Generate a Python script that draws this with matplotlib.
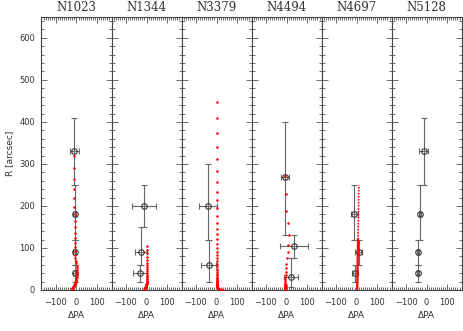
import numpy as np
import matplotlib
matplotlib.use("Agg")
import matplotlib.pyplot as plt
from matplotlib.ticker import MultipleLocator

# galaxy names, one panel each
galaxies = ["N1023", "N1344", "N3379", "N4494", "N4697", "N5128"]

# binned measurements: radius, delta PA, PA error, radial bin edges
n1023_r = [40, 90, 180, 330]
n1023_pa = [-9, -9, -9, -10]
n1023_err = [6, 6, 6, 20]
n1023_rlo = [20, 60, 120, 250]
n1023_rhi = [60, 120, 250, 410]

n1344_r = [40, 90, 200]
n1344_pa = [-32, -27, -14]
n1344_err = [35, 27, 58]
n1344_rlo = [20, 60, 150]
n1344_rhi = [60, 150, 250]

n3379_r = [60, 200]
n3379_pa = [-39, -42]
n3379_err = [36, 44]
n3379_rlo = [20, 120]
n3379_rhi = [120, 300]

n4494_r = [32, 105, 270]
n4494_pa = [20, 36, -9]
n4494_err = [34, 70, 20]
n4494_rlo = [8, 75, 130]
n4494_rhi = [75, 130, 400]

n4697_r = [40, 90, 180]
n4697_pa = [-8, 10, -11]
n4697_err = [16, 16, 16]
n4697_rlo = [20, 60, 120]
n4697_rhi = [60, 120, 250]

n5128_r = [40, 90, 180, 330]
n5128_pa = [-42, -42, -33, -15]
n5128_err = [5, 5, 5, 22]
n5128_rlo = [20, 60, 120, 250]
n5128_rhi = [60, 120, 250, 410]

# photometric profiles (red dots)
m1023_r = [1, 2, 3, 4, 5, 6, 7, 8, 9, 10, 11, 12, 13.5, 15, 16, 18, 20, 22, 24, 26,
           29, 32, 35, 39, 43, 47, 52, 57, 63, 69, 76, 84, 92, 102, 112, 123, 135,
           149, 164, 180, 198, 218, 240, 264, 290, 319]
m1023_pa = [-23, -22, -21, -20, -18, -17, -16, -15, -14, -12, -11, -10, -9, -7, -6, -5,
            -3, -2, -1, 0, 0, 1, 2, 2, 3, 3, 2, 1, -1, -4, -6, -8, -9, -9, -9, -9, -9,
            -9, -9, -9, -10, -10, -10, -10, -11, -11]

m1344_r = [1, 2, 3, 4, 5, 6, 7, 8, 9, 10, 11, 12, 14, 15, 17, 18, 20, 22, 25, 27,
           30, 33, 36, 40, 44, 49, 54, 59, 65, 72, 79, 87, 95, 105]
m1344_pa = [-13, -11, -9, -7, -6, -5, -4, -3, -3, -2, -2, -1, -1, 0, 0, 0, 0, 0, 0, 0,
            0, 1, 1, 1, 1, 1, 1, 1, 1, 1, 1, 1, 1, 1]

m3379_r = [1, 2, 3, 4, 5, 6, 7, 8, 9, 10, 11, 12, 13, 14.5, 16, 18, 20, 22, 24, 26,
           29, 32, 35, 38, 42, 47, 51, 56, 62, 68, 75, 83, 91, 100, 110, 121, 133,
           146, 160, 176, 194, 213, 234, 257, 282, 311, 341, 374, 410, 448]
m3379_pa = [30, 20, 10, 5, 3, 2, 2, 1, 1, 1, 1, 1, 1, 1, 1, 1, 1, 1, 1, 1,
            1, 1, 1, 1, 1, 1, 1, 1, 1, 1, 1, 1, 1, 1, 1, 1, 1,
            1, 1, 1, 1, 1, 1, 1, 1, 1, 1, 1, 1, 1]

m4494_r = [1, 1.5, 2, 2.5, 3, 3.5, 4, 5, 6, 7, 8.4, 10, 12, 14.5, 17, 21, 25, 30, 36,
           43, 52, 62, 75, 90, 107, 130, 159, 189, 228, 271]
m4494_pa = [-6, -6, -6, -6, -6, -6, -6, -6, -6, -6, -6, -6, -6, -6, -6, -6, -6, -6, -5,
            -5, -4, -1, 4, 9, 9, 12, 8, -4, -4, -9]

m4697_r = [0, 60, 120, 180, 250]
m4697_pa = [3, 5, 7, 9, 11]

fig = plt.figure(figsize=(4.63, 3.31), dpi=100)
axes = fig.subplots(1, 6, sharey=True)
fig.subplots_adjust(left=0.0896, right=0.997, bottom=0.124, top=0.949, wspace=0)

points = [
    (n1023_r, n1023_pa, n1023_err, n1023_rlo, n1023_rhi),
    (n1344_r, n1344_pa, n1344_err, n1344_rlo, n1344_rhi),
    (n3379_r, n3379_pa, n3379_err, n3379_rlo, n3379_rhi),
    (n4494_r, n4494_pa, n4494_err, n4494_rlo, n4494_rhi),
    (n4697_r, n4697_pa, n4697_err, n4697_rlo, n4697_rhi),
    (n5128_r, n5128_pa, n5128_err, n5128_rlo, n5128_rhi),
]
dots = [(m1023_r, m1023_pa), (m1344_r, m1344_pa), (m3379_r, m3379_pa),
        (m4494_r, m4494_pa), None, None]

grey = "#555555"
for i, ax in enumerate(axes):
    r, pa, err, rlo, rhi = [np.array(a, dtype=float) for a in points[i]]
    ax.errorbar(pa, r, xerr=err, yerr=[r - rlo, rhi - r], fmt="o", ms=4,
                mfc="none", mec="#333333", mew=0.8, ecolor="#666666",
                elinewidth=0.8, capsize=2, capthick=0.8, zorder=2)
    if dots[i] is not None:
        ax.plot(dots[i][1], dots[i][0], "o", ms=1.8, mew=0, color="red", zorder=3)
    if galaxies[i] == "N4697":
        # dense profile: solid inside, dotted outside
        ax.plot(m4697_pa[:3], m4697_r[:3], "-", lw=1.6, color="red", zorder=3)
        ax.plot(m4697_pa[2:], m4697_r[2:], color="red", lw=1.2,
                linestyle=(0, (1, 0.8)), zorder=3)

    ax.set_xlim(-170, 170)
    ax.set_ylim(0, 650)
    ax.set_xticks([-100, 0, 100])
    ax.xaxis.set_minor_locator(MultipleLocator(10))
    ax.yaxis.set_major_locator(MultipleLocator(100))
    ax.yaxis.set_minor_locator(MultipleLocator(20))
    ax.tick_params(which="both", direction="in", top=True, right=True,
                   color=grey, width=0.6, labelsize=6, labelcolor="#333333")
    ax.tick_params(which="major", length=4)
    ax.tick_params(which="minor", length=2)
    ax.tick_params(axis="x", pad=6)
    ax.tick_params(axis="y", pad=4.5)
    for s in ax.spines.values():
        s.set_color("#444444")
        s.set_linewidth(0.8)
    ax.set_title(galaxies[i], fontsize=8.5, family="DejaVu Serif", pad=4, color="#333333")
    ax.set_xlabel("ΔPA", fontsize=6.5, labelpad=3, color="#333333")

axes[0].set_ylabel("R [arcsec]", fontsize=6.5, labelpad=4, color="#333333")

fig.savefig("out.png", dpi=100)
